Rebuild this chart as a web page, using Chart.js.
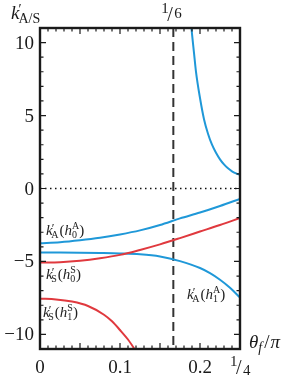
<!DOCTYPE html>
<html>
<head>
<meta charset="utf-8">
<script src="https://cdn.jsdelivr.net/npm/chart.js@4.4.1/dist/chart.umd.min.js"></script>
<style>
  html, body { margin: 0; padding: 0; background: #fff; }
</style>
</head>
<body>
<canvas id="chart" width="291" height="380"></canvas>
<script>
// curves (theta_f / pi  ->  k')
const thetaA0 = [0, 0.025, 0.05, 0.075, 0.1, 0.125, 0.15, 0.175, 0.2, 0.225, 0.25];
const kA0     = [-3.75, -3.68, -3.55, -3.38, -3.15, -2.87, -2.5, -2.05, -1.65, -1.2, -0.71];

const thetaS0 = [0, 0.025, 0.05, 0.075, 0.1, 0.125, 0.15, 0.175, 0.2, 0.225, 0.25];
const kS0     = [-5.08, -5.05, -4.95, -4.78, -4.55, -4.21, -3.83, -3.4, -2.95, -2.5, -2.02];

const thetaA1 = [0, 0.025, 0.05, 0.075, 0.1, 0.125, 0.15, 0.175, 0.2, 0.2125, 0.225, 0.2375, 0.25];
const kA1     = [-4.39, -4.39, -4.4, -4.42, -4.45, -4.51, -4.66, -4.98, -5.45, -5.8, -6.25, -6.8, -7.47];

const thetaS1 = [0, 0.02, 0.04, 0.06, 0.08, 0.09, 0.1, 0.11, 0.12];
const kS1     = [-7.55, -7.6, -7.75, -8.05, -8.65, -9.1, -9.7, -10.35, -11.15];

// upper branch of k'_A(h_1^A)
const thetaA1up = [0.1885, 0.19, 0.1925, 0.195, 0.2, 0.205, 0.21, 0.215, 0.22, 0.225, 0.23, 0.235, 0.24, 0.245, 0.25];
const kA1up     = [11.5, 10.6, 9.3, 8.0, 6.2, 4.75, 3.75, 3.0, 2.45, 2.0, 1.65, 1.38, 1.18, 1.04, 0.93];

// axes
const xMajor = [0, 0.05, 0.1, 0.15, 0.2, 0.25];
const yMajor = [-10, -5, 0, 5, 10];
const xLabelVals = [0, 0.1, 0.2];
const xLabels = ['0', '0.1', '0.2'];
const yLabels = ['\u221210', '\u22125', '0', '5', '10'];
const thetaMark = 1 / 6;

const BLUE = '#1f98d8';
const RED = '#e0393e';
const INK = '#1a1a1a';
const SERIF = '"Liberation Serif", "DejaVu Serif", serif';

function pts(xs, ys) {
  return xs.map((x, i) => ({ x: x, y: ys[i] }));
}

function drawRich(ctx, x, y, parts) {
  let cx = x;
  parts.forEach(p => {
    ctx.font = p.font;
    if (p.stack) {
      const w1 = ctx.measureText(p.stack[0]).width;
      const w2 = ctx.measureText(p.stack[1]).width;
      ctx.fillText(p.stack[0], cx, y + p.dy[0]);
      ctx.fillText(p.stack[1], cx, y + p.dy[1]);
      cx += Math.max(w1, w2) + (p.gap || 0);
    } else {
      ctx.fillText(p.t, cx + (p.dx || 0), y + (p.dy || 0));
      cx += ctx.measureText(p.t).width + (p.dx || 0) + (p.gap || 0);
    }
  });
}

// k'_X(h_n^X)
function curveLabel(ctx, x, y, sub, n, sup) {
  drawRich(ctx, x, y, [
    { t: 'k', font: 'italic 15px ' + SERIF },
    { t: '\u2032', font: '12px ' + SERIF, dy: -3, dx: -1 },
    { t: sub, font: '10px ' + SERIF, dy: 3, dx: -3, gap: 1 },
    { t: '(', font: '15px ' + SERIF },
    { t: 'h', font: 'italic 15px ' + SERIF },
    { stack: [sup, n], font: '10px ' + SERIF, dy: [-6, 3] },
    { t: ')', font: '15px ' + SERIF }
  ]);
}

const decor = {
  id: 'decor',
  beforeDatasetsDraw(chart) {
    const { ctx, chartArea: a, scales: { x, y } } = chart;
    ctx.save();
    // zero line
    ctx.strokeStyle = '#111';
    ctx.lineWidth = 1.5;
    ctx.setLineDash([1.5, 3.5]);
    ctx.beginPath();
    ctx.moveTo(a.left, y.getPixelForValue(0));
    ctx.lineTo(a.right, y.getPixelForValue(0));
    ctx.stroke();
    // theta = 1/6
    ctx.strokeStyle = '#333';
    ctx.lineWidth = 2;
    ctx.setLineDash([9, 5]);
    const px = x.getPixelForValue(thetaMark);
    ctx.beginPath();
    ctx.moveTo(px, a.top);
    ctx.lineTo(px, a.bottom);
    ctx.stroke();
    ctx.restore();
  },
  afterDraw(chart) {
    const { ctx, chartArea: a, scales: { x, y } } = chart;
    ctx.save();
    ctx.strokeStyle = INK;
    ctx.fillStyle = INK;

    // ticks inward on every side
    ctx.lineWidth = 1.2;
    ctx.beginPath();
    for (let i = 0; i <= 25; i++) {
      const v = i / 100;
      const px = x.getPixelForValue(v);
      const len = xMajor.some(m => Math.abs(m - v) < 1e-9) ? 6 : 3.5;
      ctx.moveTo(px, a.bottom); ctx.lineTo(px, a.bottom - len);
      ctx.moveTo(px, a.top); ctx.lineTo(px, a.top + len);
    }
    for (let v = -11; v <= 11; v++) {
      const py = y.getPixelForValue(v);
      const len = yMajor.includes(v) ? 6 : 3.5;
      ctx.moveTo(a.left, py); ctx.lineTo(a.left + len, py);
      ctx.moveTo(a.right, py); ctx.lineTo(a.right - len, py);
    }
    ctx.stroke();

    // frame
    ctx.lineWidth = 2.4;
    ctx.strokeRect(a.left, a.top, a.right - a.left, a.bottom - a.top);

    // y tick labels
    ctx.font = '19px ' + SERIF;
    ctx.textAlign = 'right';
    ctx.textBaseline = 'alphabetic';
    yMajor.forEach((v, i) => {
      ctx.fillText(yLabels[i], a.left - 6, y.getPixelForValue(v) + 6);
    });

    // x tick labels
    ctx.textAlign = 'center';
    xLabelVals.forEach((v, i) => {
      ctx.fillText(xLabels[i], x.getPixelForValue(v), a.bottom + 24);
    });
    ctx.textAlign = 'left';

    // 1/4 at the right end
    const qx = x.getPixelForValue(0.25);
    ctx.font = '15px ' + SERIF;
    ctx.fillText('1', qx - 10, a.bottom + 17);
    ctx.font = '20px ' + SERIF;
    ctx.fillText('/', qx - 4, a.bottom + 25);
    ctx.font = '15px ' + SERIF;
    ctx.fillText('4', qx + 3, a.bottom + 26);

    // 1/6 on top
    const sx = x.getPixelForValue(thetaMark);
    ctx.font = '15px ' + SERIF;
    ctx.fillText('1', sx - 12, 13);
    ctx.font = '20px ' + SERIF;
    ctx.fillText('/', sx - 6, 21);
    ctx.font = '15px ' + SERIF;
    ctx.fillText('6', sx + 1, 18);

    // axis titles
    drawRich(ctx, 11, 19, [
      { t: 'k', font: 'italic 19px ' + SERIF },
      { t: '\u2032', font: '14px ' + SERIF, dy: -5, dx: -1 },
      { t: 'A/S', font: '14px ' + SERIF, dy: 4, dx: -3 }
    ]);
    drawRich(ctx, a.right + 9, a.bottom - 1, [
      { t: '\u03b8', font: 'italic 19px ' + SERIF },
      { t: 'f', font: 'italic 14px ' + SERIF, dy: 4, gap: 2 },
      { t: '/', font: '19px ' + SERIF, gap: 1 },
      { t: '\u03c0', font: 'italic 19px ' + SERIF }
    ]);

    // curve labels
    ctx.fillStyle = '#222';
    curveLabel(ctx, 46, 235, 'A', '0', 'A');
    curveLabel(ctx, 46, 279, 'S', '0', 'S');
    curveLabel(ctx, 43, 317, 'S', '1', 'S');
    curveLabel(ctx, 187, 299, 'A', '1', 'A');
    ctx.restore();
  }
};

const line = (data, color) => ({
  data: data,
  borderColor: color,
  borderWidth: 2,
  pointRadius: 0,
  fill: false,
  cubicInterpolationMode: 'monotone'
});

new Chart(document.getElementById('chart'), {
  type: 'line',
  data: {
    datasets: [
      line(pts(thetaS1, kS1), RED),
      line(pts(thetaS0, kS0), RED),
      line(pts(thetaA1, kA1), BLUE),
      line(pts(thetaA0, kA0), BLUE),
      line(pts(thetaA1up, kA1up), BLUE)
    ]
  },
  options: {
    responsive: false,
    animation: false,
    layout: { padding: { left: 40, right: 51, top: 28, bottom: 31 } },
    plugins: { legend: { display: false }, tooltip: { enabled: false } },
    scales: {
      x: { type: 'linear', min: 0, max: 0.25, display: false },
      y: { type: 'linear', min: -11, max: 11, display: false }
    }
  },
  plugins: [decor]
});
</script>
</body>
</html>
